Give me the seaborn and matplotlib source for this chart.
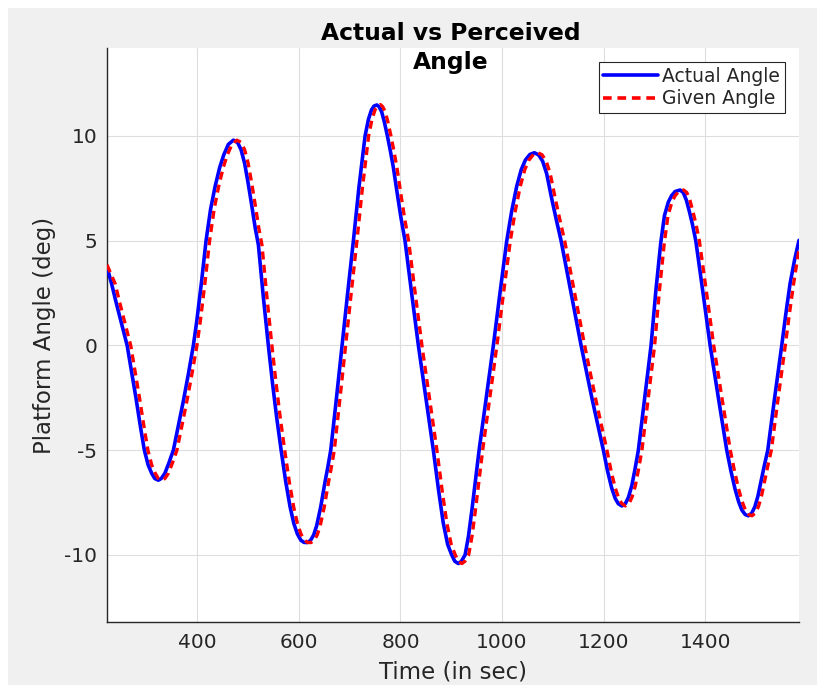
import matplotlib
matplotlib.use("Agg")
import matplotlib.pyplot as plt
from matplotlib.patches import Rectangle
import seaborn as sns

# Actual platform angle
actual_time = [
    222, 231, 240, 250, 261.7, 270, 279, 288, 295.6, 303,
    310, 316, 323, 329, 336, 344, 352.7, 362, 372, 382,
    392.1, 399, 408, 417.1, 426, 435, 444, 452, 461, 470.9,
    479, 486, 493, 500, 507, 514, 520.2, 530, 539.8, 548,
    556, 565, 574, 582.6, 590, 597, 604, 610, 616.7, 623,
    629, 635, 643, 651.5, 657, 662.7, 674, 685, 696, 707.3,
    718, 730.3, 737, 743, 748, 753.4, 758, 763, 768, 774.3,
    780, 786, 794, 801, 809, 822, 835.3, 850, 864.8, 875,
    884.5, 893, 901, 907, 914, 920, 927.3, 934, 941, 948,
    954.9, 969, 983, 996, 1009.4, 1019, 1029, 1038, 1046, 1055,
    1063.8, 1072, 1080, 1088, 1098, 1107, 1116.4, 1136, 1155.8, 1177,
    1199.7, 1208, 1216, 1223, 1229, 1236, 1243, 1249, 1255.6, 1262,
    1268.6, 1281, 1293.6, 1303, 1312.7, 1320, 1327.7, 1334, 1341, 1350.8,
    1357, 1363, 1369, 1375, 1381.7, 1396, 1410, 1426.2, 1442.7, 1451,
    1459, 1466, 1472.3, 1479, 1485.3, 1492, 1498, 1504, 1511, 1517,
    1523.5, 1537, 1551, 1559, 1567.4, 1576, 1585,
]
actual_angle = [
    3.75, 2.95, 2.05, 1.1, 0.0, -1.2, -2.5, -3.9, -5.0, -5.7,
    -6.1, -6.35, -6.43, -6.35, -6.1, -5.6, -5.0, -3.9, -2.7, -1.4,
    0.0, 1.2, 3.0, 5.0, 6.5, 7.6, 8.5, 9.1, 9.6, 9.8,
    9.7, 9.35, 8.7, 7.75, 6.7, 5.6, 4.8, 2.3, 0.0, -1.8,
    -3.4, -5.0, -6.5, -7.7, -8.5, -9.0, -9.3, -9.4, -9.41, -9.3,
    -9.05, -8.6, -7.7, -6.5, -5.8, -5.0, -2.5, 0.0, 2.5, 5.0,
    7.5, 10.0, 10.8, 11.25, 11.43, 11.48, 11.4, 11.15, 10.7, 10.0,
    9.3, 8.5, 7.2, 6.1, 5.0, 2.5, 0.0, -2.5, -5.0, -6.9,
    -8.5, -9.5, -10.0, -10.3, -10.41, -10.3, -10.0, -9.1, -7.8, -6.4,
    -5.0, -2.5, 0.0, 2.5, 5.0, 6.4, 7.6, 8.4, 8.85, 9.12,
    9.2, 9.1, 8.8, 8.2, 7.0, 6.0, 5.0, 2.5, 0.0, -2.5,
    -5.0, -6.0, -6.8, -7.3, -7.55, -7.66, -7.55, -7.25, -6.7, -5.9,
    -5.0, -2.5, 0.0, 2.6, 4.9, 6.2, 6.85, 7.15, 7.35, 7.42,
    7.3, 6.95, 6.4, 5.8, 5.0, 2.5, 0.0, -2.5, -5.0, -6.0,
    -6.85, -7.45, -7.85, -8.07, -8.13, -8.0, -7.7, -7.2, -6.4, -5.7,
    -5.0, -2.5, 0.0, 1.5, 2.95, 4.05, 5.02,
]

# Given angle, trails the actual one by a few seconds
given_time = [
    222, 238, 247, 257, 268.7, 277, 286, 295, 302.6, 310,
    317, 323, 330, 336, 343, 351, 359.7, 369, 379, 389,
    399.1, 406, 415, 424.1, 433, 442, 451, 459, 468, 477.9,
    486, 493, 500, 507, 514, 521, 527.2, 537, 546.8, 555,
    563, 572, 581, 589.6, 597, 604, 611, 617, 623.7, 630,
    636, 642, 650, 658.5, 664, 669.7, 681, 692, 703, 714.3,
    725, 737.3, 744, 750, 755, 760.4, 765, 770, 775, 781.3,
    787, 793, 801, 808, 816, 829, 842.3, 857, 871.8, 882,
    891.5, 900, 908, 914, 921, 927, 934.3, 941, 948, 955,
    961.9, 976, 990, 1003, 1016.4, 1026, 1036, 1045, 1053, 1062,
    1070.8, 1079, 1087, 1095, 1105, 1114, 1123.4, 1143, 1162.8, 1184,
    1206.7, 1215, 1223, 1230, 1236, 1243, 1250, 1256, 1262.6, 1269,
    1275.6, 1288, 1300.6, 1310, 1319.7, 1327, 1334.7, 1341, 1348, 1357.8,
    1364, 1370, 1376, 1382, 1388.7, 1403, 1417, 1433.2, 1449.7, 1458,
    1466, 1473, 1479.3, 1486, 1492.3, 1499, 1505, 1511, 1518, 1524,
    1530.5, 1544, 1558, 1566, 1574.4, 1585,
]
given_angle = [
    3.85, 2.95, 2.05, 1.1, 0.0, -1.2, -2.5, -3.9, -5.0, -5.7,
    -6.1, -6.35, -6.43, -6.35, -6.1, -5.6, -5.0, -3.9, -2.7, -1.4,
    0.0, 1.2, 3.0, 5.0, 6.5, 7.6, 8.5, 9.1, 9.6, 9.8,
    9.7, 9.35, 8.7, 7.75, 6.7, 5.6, 4.8, 2.3, 0.0, -1.8,
    -3.4, -5.0, -6.5, -7.7, -8.5, -9.0, -9.3, -9.4, -9.41, -9.3,
    -9.05, -8.6, -7.7, -6.5, -5.8, -5.0, -2.5, 0.0, 2.5, 5.0,
    7.5, 10.0, 10.8, 11.25, 11.43, 11.5, 11.4, 11.15, 10.7, 10.0,
    9.3, 8.5, 7.2, 6.1, 5.0, 2.5, 0.0, -2.5, -5.0, -6.9,
    -8.5, -9.5, -10.0, -10.3, -10.41, -10.3, -10.0, -9.1, -7.8, -6.4,
    -5.0, -2.5, 0.0, 2.5, 5.0, 6.4, 7.6, 8.4, 8.85, 9.12,
    9.2, 9.1, 8.8, 8.2, 7.0, 6.0, 5.0, 2.5, 0.0, -2.5,
    -5.0, -6.0, -6.8, -7.3, -7.55, -7.66, -7.55, -7.25, -6.7, -5.9,
    -5.0, -2.5, 0.0, 2.6, 4.9, 6.2, 6.85, 7.15, 7.35, 7.42,
    7.3, 6.95, 6.4, 5.8, 5.0, 2.5, 0.0, -2.5, -5.0, -6.0,
    -6.85, -7.45, -7.85, -8.07, -8.13, -8.0, -7.7, -7.2, -6.4, -5.7,
    -5.0, -2.5, 0.0, 1.5, 2.95, 4.6,
]

x_ticks = [400, 600, 800, 1000, 1200, 1400]
y_ticks = [-10, -5, 0, 5, 10]

sns.set_style("white")
plt.rcParams['font.family'] = ['DejaVu Sans']

dark = '#262626'

fig = plt.figure(figsize=(8.17, 6.85), dpi=100, facecolor='white')
# grey panel behind the axes (thin white strip on top/left like the screenshot)
fig.patches.append(Rectangle((8 / 817, 0), 1, 677 / 685, transform=fig.transFigure,
                             facecolor='#f0f0f0', edgecolor='none', zorder=-10))
ax = fig.add_axes([107 / 817, 63 / 685, 692 / 817, 574 / 685])
ax.set_facecolor('white')

sns.lineplot(x=actual_time, y=actual_angle, ax=ax, color='blue', linewidth=2.6,
             sort=False, label='Actual Angle', zorder=3)
sns.lineplot(x=given_time, y=given_angle, ax=ax, color='red', linewidth=2.4,
             sort=False, label='Given Angle', linestyle='--', zorder=4)
ax.lines[1].set_dashes((2.4, 1.6))

ax.set_xlim(222, 1585)
ax.set_ylim(-13.2, 14.2)
ax.set_xticks(x_ticks)
ax.set_yticks(y_ticks)
ax.set_xticklabels([str(v) for v in x_ticks])
ax.set_yticklabels([str(v) for v in y_ticks])

ax.grid(True, color='#dedede', linewidth=0.8)
ax.set_axisbelow(True)
for side in ['top', 'right']:
    ax.spines[side].set_visible(False)
for side in ['left', 'bottom']:
    ax.spines[side].set_color(dark)
    ax.spines[side].set_linewidth(1.0)
ax.tick_params(direction='in', length=3.5, width=1.0, color=dark,
               labelcolor=dark, labelsize=14.5)
ax.tick_params(axis='x', pad=8)
ax.tick_params(axis='y', pad=7)

ax.set_xlabel('Time (in sec)', fontsize=16.5, color=dark, labelpad=6)
ax.set_ylabel('Platform Angle (deg)', fontsize=16.5, color=dark, labelpad=6)

# two-line title sitting on the top edge of the axes, as MATLAB draws it
ax.text(0.497, 1.0, 'Actual vs Perceived\nAngle', transform=ax.transAxes,
        ha='center', va='center', fontsize=16.8, fontweight='bold',
        color='black', linespacing=1.32, zorder=10)

leg = ax.legend(loc='upper right', fontsize=13.5, frameon=True, fancybox=False,
                framealpha=1, edgecolor=dark, borderaxespad=0.75,
                handlelength=2.9, handletextpad=0.25, borderpad=0.25,
                labelspacing=0.2)
leg.get_frame().set_linewidth(0.8)
for h in leg.get_lines():
    h.set_linewidth(2.6)

fig.savefig('out.png', dpi=100, facecolor=fig.get_facecolor())
